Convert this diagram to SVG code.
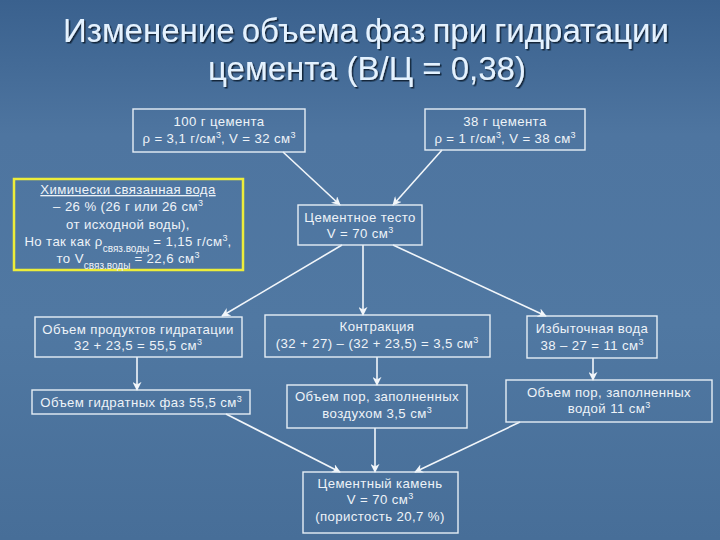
<svg xmlns="http://www.w3.org/2000/svg" width="720" height="540" viewBox="0 0 720 540">
<defs>
<linearGradient id="bg" x1="0" y1="0" x2="0" y2="1">
<stop offset="0" stop-color="#3a618e"/>
<stop offset="0.25" stop-color="#4e75a0"/>
<stop offset="0.6" stop-color="#5078a2"/>
<stop offset="1" stop-color="#476e98"/>
</linearGradient>
<marker id="ah" viewBox="0 0 10 10" refX="9" refY="5" markerWidth="9" markerHeight="9" markerUnits="userSpaceOnUse" orient="auto">
<path d="M0,0 L10,5 L0,10 L3,5 z" fill="#f2f6fa"/>
</marker>
<filter id="sh" filterUnits="userSpaceOnUse" x="0" y="0" width="720" height="120">
<feDropShadow dx="1.5" dy="1.5" stdDeviation="0.6" flood-color="#0a1a30" flood-opacity="0.9"/>
</filter>
</defs>
<style>
.box{fill:none;stroke:#e6eef6;stroke-width:1.4}
.t{font-family:"Liberation Sans",Arial,sans-serif;font-size:13.2px;letter-spacing:0.4px;fill:#eef3f8;text-anchor:middle}
.title{font-family:"Liberation Sans",Arial,sans-serif;font-size:33px;fill:#e4f2ff;text-anchor:middle}
.sup{font-size:9px;letter-spacing:0}
.sub{font-size:10px;letter-spacing:0}
.c{stroke:#f2f6fa;stroke-width:1.6;fill:none;marker-end:url(#ah)}
</style>
<rect x="0" y="0" width="720" height="540" fill="url(#bg)"/>
<g id="title" filter="url(#sh)">
<text class="title" x="366" y="42" word-spacing="-2">Изменение объема фаз при  гидратации</text>
<text class="title" x="367" y="80">цемента (В/Ц = 0,38)</text>
</g>
<g id="connectors">
<line class="c" x1="283" y1="152" x2="340" y2="205"/>
<line class="c" x1="442" y1="150" x2="393" y2="205"/>
<line class="c" x1="342" y1="245" x2="222" y2="316"/>
<line class="c" x1="363" y1="245" x2="363" y2="315"/>
<line class="c" x1="393" y1="245" x2="546" y2="316"/>
<line class="c" x1="137" y1="357" x2="137" y2="390"/>
<line class="c" x1="377" y1="357" x2="377" y2="385"/>
<line class="c" x1="593" y1="358" x2="593" y2="380"/>
<line class="c" x1="226" y1="414" x2="340" y2="472"/>
<line class="c" x1="375" y1="428" x2="375" y2="472"/>
<line class="c" x1="520" y1="422" x2="415" y2="472"/>
</g>
<g id="n1">
<rect class="box" x="133" y="109" width="172" height="43"/>
<text class="t" x="219" y="126">100 г цемента</text>
<text class="t" x="219" y="143">ρ = 3,1 г/см<tspan class="sup" baseline-shift="super">3</tspan>, V = 32 см<tspan class="sup" baseline-shift="super">3</tspan></text>
</g>
<g id="n2">
<rect class="box" x="425" y="109" width="160" height="41"/>
<text class="t" x="505" y="126">38 г цемента</text>
<text class="t" x="505" y="143">ρ = 1 г/см<tspan class="sup" baseline-shift="super">3</tspan>, V = 38 см<tspan class="sup" baseline-shift="super">3</tspan></text>
</g>
<g id="n3">
<rect x="14" y="179" width="229" height="91" fill="none" stroke="#eded3a" stroke-width="2.5"/>
<text class="t" x="128" y="194" text-decoration="underline">Химически связанная вода</text>
<text class="t" x="128" y="211">– 26 % (26 г или 26 см<tspan class="sup" baseline-shift="super">3</tspan></text>
<text class="t" x="128" y="229">от исходной воды),</text>
<text class="t" x="128" y="246">Но так как ρ<tspan class="sub" baseline-shift="sub">связ.воды</tspan> = 1,15 г/см<tspan class="sup" baseline-shift="super">3</tspan>,</text>
<text class="t" x="128" y="263">то V<tspan class="sub" baseline-shift="sub">связ.воды</tspan> = 22,6 см<tspan class="sup" baseline-shift="super">3</tspan></text>
</g>
<g id="n4">
<rect class="box" x="298" y="205" width="124" height="40"/>
<text class="t" x="360" y="222">Цементное тесто</text>
<text class="t" x="360" y="238">V = 70 см<tspan class="sup" baseline-shift="super">3</tspan></text>
</g>
<g id="n5">
<rect class="box" x="35" y="317" width="207" height="40"/>
<text class="t" x="138" y="334">Объем продуктов гидратации</text>
<text class="t" x="138" y="350">32 + 23,5 = 55,5 см<tspan class="sup" baseline-shift="super">3</tspan></text>
</g>
<g id="n6">
<rect class="box" x="32" y="390" width="218" height="24"/>
<text class="t" x="141" y="407">Объем гидратных фаз 55,5 см<tspan class="sup" baseline-shift="super">3</tspan></text>
</g>
<g id="n7">
<rect class="box" x="265" y="315" width="225" height="42"/>
<text class="t" x="377" y="331">Контракция</text>
<text class="t" x="377" y="348">(32 + 27) – (32 + 23,5)  = 3,5 см<tspan class="sup" baseline-shift="super">3</tspan></text>
</g>
<g id="n8">
<rect class="box" x="287" y="385" width="180" height="43"/>
<text class="t" x="377" y="401">Объем пор, заполненных</text>
<text class="t" x="377" y="418">воздухом 3,5 см<tspan class="sup" baseline-shift="super">3</tspan></text>
</g>
<g id="n9">
<rect class="box" x="527" y="316" width="130" height="42"/>
<text class="t" x="592" y="333">Избыточная вода</text>
<text class="t" x="592" y="350">38 – 27  = 11 см<tspan class="sup" baseline-shift="super">3</tspan></text>
</g>
<g id="n10">
<rect class="box" x="506" y="380" width="206" height="42"/>
<text class="t" x="609" y="397">Объем пор, заполненных</text>
<text class="t" x="609" y="413">водой 11 см<tspan class="sup" baseline-shift="super">3</tspan></text>
</g>
<g id="n11">
<rect class="box" x="303" y="472" width="155" height="61"/>
<text class="t" x="380" y="488">Цементный камень</text>
<text class="t" x="380" y="504">V = 70 см<tspan class="sup" baseline-shift="super">3</tspan></text>
<text class="t" x="380" y="521">(пористость 20,7 %)</text>
</g>
</svg>
